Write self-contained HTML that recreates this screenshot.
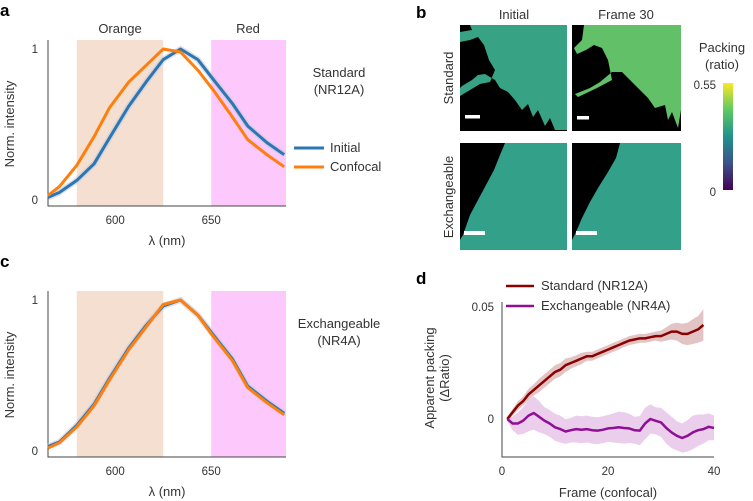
<!DOCTYPE html>
<html><head><meta charset="utf-8"><style>
html,body{margin:0;padding:0;background:#fff;}
svg{display:block;font-family:"Liberation Sans",sans-serif;}
</style></head><body>
<svg id="fig" width="753" height="501" viewBox="0 0 753 501" xmlns="http://www.w3.org/2000/svg">
<g id="pa"></g>
<g id="pc"></g>
<g id="pb">
  <text x="416" y="18" font-size="17" font-weight="bold">b</text>
  <text x="514" y="19" font-size="13" text-anchor="middle" fill="#333">Initial</text>
  <text x="626" y="19" font-size="13" text-anchor="middle" fill="#333">Frame 30</text>
  <text transform="translate(453,78) rotate(-90)" font-size="13" text-anchor="middle" fill="#333">Standard</text>
  <text transform="translate(453,197) rotate(-90)" font-size="13" text-anchor="middle" fill="#333">Exchangeable</text>
  <defs>
    <linearGradient id="cbar" x1="0" y1="1" x2="0" y2="0"><stop offset="0" stop-color="#440154"/><stop offset="0.25" stop-color="#3b528b"/><stop offset="0.5" stop-color="#21918c"/><stop offset="0.75" stop-color="#5ec962"/><stop offset="1" stop-color="#fde725"/></linearGradient>
  </defs>
  <g>
    <rect x="460" y="25" width="107" height="106" fill="#000"/>
    <polygon points="470,25 567,25 567,130 555,130 550,118 545,126 538,110 533,117 528,104 522,110 515,100 508,92 500,88 495,80 485,74 478,75 472,80 462,86 460,88 460,96 470,90 480,84 490,82 495,70 489,60 484,45 478,37 470,40 460,42 460,32 472,30" fill="#38a285"/>
    <rect x="465" y="115" width="15" height="3.5" fill="#fff"/>
  </g>
  <g>
    <rect x="572" y="25" width="109" height="106" fill="#000"/>
    <polygon points="584,25 681,25 681,110 678,128 672,112 668,120 665,105 655,108 648,98 640,90 630,80 622,72 612,72 600,82 590,88 575,94 578,97 597,88 612,80 608,60 602,48 594,45 586,50 577,54 574,48 582,40" fill="#62c068"/>
    <rect x="577" y="116" width="12" height="3.5" fill="#fff"/>
  </g>
  <g>
    <rect x="460" y="143" width="107" height="107" fill="#33a08a"/>
    <polygon points="460,143 505,143 500,155 494,170 486,185 478,200 470,215 463,235 460,240" fill="#000"/>
    <rect x="464" y="231" width="21" height="4" fill="#fff"/>
  </g>
  <g>
    <rect x="572" y="143" width="109" height="107" fill="#33a08a"/>
    <polygon points="572,143 620,143 616,158 608,172 598,188 590,202 582,218 576,232 572,240" fill="#000"/>
    <rect x="576" y="231" width="21" height="4" fill="#fff"/>
  </g>
  <text x="722" y="52" font-size="13" text-anchor="middle" fill="#333">Packing</text>
  <text x="722" y="69" font-size="13" text-anchor="middle" fill="#333">(ratio)</text>
  <rect x="723" y="83" width="10" height="107" fill="url(#cbar)"/>
  <text x="716" y="89" font-size="11.5" text-anchor="end" fill="#333">0.55</text>
  <text x="716" y="196" font-size="11.5" text-anchor="end" fill="#333">0</text>
</g>
<g id="pd"></g>
</svg>
<script>
// Spectra data
const wavelengths = [565,571,580,589,597,607,616,625,634,643,651,661,669,679,688];
const stdInitial = [0.017,0.05,0.13,0.24,0.41,0.62,0.78,0.93,1.0,0.93,0.80,0.64,0.49,0.38,0.30];
const stdConfocal = [0.03,0.09,0.23,0.42,0.61,0.78,0.89,1.0,0.98,0.86,0.73,0.55,0.40,0.30,0.22];
const exInitial = [0.03,0.06,0.17,0.31,0.48,0.68,0.83,0.96,1.0,0.9,0.77,0.61,0.43,0.33,0.25];
const exConfocal = [0.02,0.055,0.16,0.30,0.47,0.67,0.82,0.97,1.0,0.9,0.76,0.60,0.42,0.32,0.24];
const xTicks = [600,650];
// Panel d data
const frames = [1,2,3,4,5,6,7,8,9,10,11,12,13,14,15,16,17,18,19,20,21,22,23,24,25,26,27,28,29,30,31,32,33,34,35,36,37,38];
const stdMean = [0,0.003,0.006,0.008,0.011,0.013,0.015,0.017,0.019,0.021,0.022,0.024,0.025,0.026,0.027,0.028,0.028,0.029,0.030,0.031,0.032,0.033,0.034,0.035,0.0355,0.036,0.036,0.0365,0.037,0.037,0.038,0.039,0.039,0.038,0.038,0.039,0.040,0.042];
const stdErr = [0.001,0.0015,0.002,0.002,0.0025,0.0025,0.003,0.003,0.003,0.003,0.003,0.003,0.0025,0.0025,0.0025,0.002,0.002,0.002,0.002,0.002,0.002,0.002,0.002,0.002,0.002,0.002,0.002,0.002,0.002,0.0025,0.003,0.0035,0.004,0.0045,0.005,0.0055,0.006,0.007];
const exFrames = [1,2,3,4,5,6,7,8,9,10,11,12,13,14,15,16,17,18,19,20,21,22,23,24,25,26,27,28,29,30,31,32,33,34,35,36,37,38,39,40];
const exMean = [0,-0.002,-0.002,-0.0007,0.0015,0.0027,0.001,-0.0007,-0.002,-0.0037,-0.0045,-0.0056,-0.005,-0.0045,-0.0048,-0.0045,-0.005,-0.0052,-0.0048,-0.0042,-0.004,-0.0037,-0.004,-0.0042,-0.005,-0.0052,-0.002,0,-0.0008,-0.0015,-0.004,-0.006,-0.0075,-0.0085,-0.0075,-0.006,-0.005,-0.0045,-0.0035,-0.004];
const exErr = [0.001,0.003,0.005,0.006,0.007,0.0075,0.007,0.006,0.006,0.006,0.006,0.0055,0.0055,0.006,0.006,0.006,0.006,0.006,0.006,0.006,0.0065,0.007,0.007,0.0065,0.006,0.0065,0.007,0.0065,0.006,0.0065,0.007,0.007,0.0065,0.0065,0.007,0.0075,0.007,0.0065,0.006,0.0055];
const dXTicks = [0,20,40];
const dYTicks = [0,0.05];

const NS='http://www.w3.org/2000/svg';
function mk(parent,tag,attrs,text){const e=document.createElementNS(NS,tag);for(const k in attrs)e.setAttribute(k,attrs[k]);if(text!==undefined)e.textContent=text;parent.appendChild(e);return e;}
function pathFrom(xs,ys,fx,fy){return xs.map((x,i)=>(i?'L':'M')+fx(x).toFixed(1)+','+fy(ys[i]).toFixed(1)).join(' ');}

function spectrum(g,off,letter,blue,orange,name1,name2,showLegend){
  const fx=w=>48+(w-565)*1.92;
  const fy=v=>off+200-151*v;
  const top=off+40,bot=off+206;
  let t=mk(g,'text',{x:0,y:off+16,'font-size':17,'font-weight':'bold'},letter);
  
  
  let r=mk(g,'rect',{x:fx(580),y:top,width:fx(625)-fx(580),height:bot-top,fill:'#f5dfd0'});
  
  
  r=mk(g,'rect',{x:fx(650),y:top,width:286-fx(650),height:bot-top,fill:'#fdc8fb'});
  
  
  if(showLegend){
    t=mk(g,'text',{x:fx(602.5),y:off+33,'font-size':13,'text-anchor':'middle',fill:'#333'},'Orange');
    
    
    t=mk(g,'text',{x:248,y:off+33,'font-size':13,'text-anchor':'middle',fill:'#333'},'Red');
    
    
  }
  let a=mk(g,'path',{d:`M48,${top} V${bot} H286`,fill:'none',stroke:'#444','stroke-width':1});
  
  
  [[1,'1'],[0,'0']].forEach(([v,l])=>{const e=mk(g,'text',{x:38,y:fy(v)+4,'font-size':11.5,'text-anchor':'end',fill:'#333'},l);
    
    });
  xTicks.forEach(w=>{const e=mk(g,'text',{x:fx(w),y:off+224,'font-size':11.5,'text-anchor':'middle',fill:'#333'},String(w));
    
    });
  t=mk(g,'text',{x:167,y:off+245,'font-size':13,'text-anchor':'middle',fill:'#333'},'λ (nm)');
  
  
  t=mk(g,'text',{transform:`translate(14,${off+124}) rotate(-90)`,'font-size':13,'text-anchor':'middle',fill:'#333'},'Norm. intensity');
  
  
  let p=mk(g,'path',{d:pathFrom(wavelengths,blue,fx,fy),fill:'none',stroke:'#c9c9d8','stroke-width':6,opacity:0.6});
  
  
  p=mk(g,'path',{d:pathFrom(wavelengths,blue,fx,fy),fill:'none',stroke:'#2a77b4','stroke-width':3,'stroke-linejoin':'round'});
  
  
  p=mk(g,'path',{d:pathFrom(wavelengths,orange,fx,fy),fill:'none',stroke:'#ff7f0e','stroke-width':3,'stroke-linejoin':'round'});
  
  
  t=mk(g,'text',{x:339,y:off+77,'font-size':13,'text-anchor':'middle',fill:'#333'},name1);
  
  
  t=mk(g,'text',{x:339,y:off+94,'font-size':13,'text-anchor':'middle',fill:'#333'},name2);
  
  
  if(showLegend){
    mk(g,'line',{x1:294,x2:324,y1:off+148,y2:off+148,stroke:'#2a77b4','stroke-width':3});
    t=mk(g,'text',{x:330,y:off+152,'font-size':13,fill:'#333'},'Initial');
    
    
    mk(g,'line',{x1:294,x2:324,y1:off+167,y2:off+167,stroke:'#ff7f0e','stroke-width':3});
    t=mk(g,'text',{x:330,y:off+171,'font-size':13,fill:'#333'},'Confocal');
    
    
  }
}
spectrum(document.getElementById('pa'),0,'a',stdInitial,stdConfocal,'Standard','(NR12A)',true);
spectrum(document.getElementById('pc'),251,'c',exInitial,exConfocal,'Exchangeable','(NR4A)',false);

(function(){
  const g=document.getElementById('pd');
  const fx=f=>502+f*5.3;
  const fy=v=>419-v*2240;
  let t=mk(g,'text',{x:416,y:284,'font-size':17,'font-weight':'bold'},'d');
  
  
  function band(xs,m,e,col,name){
    const up=xs.map((x,i)=>fx(x).toFixed(1)+','+fy(m[i]+e[i]).toFixed(1));
    const lo=xs.map((x,i)=>fx(x).toFixed(1)+','+fy(m[i]-e[i]).toFixed(1)).reverse();
    const p=mk(g,'polygon',{points:up.concat(lo).join(' '),fill:col});
    
    
  }
  band(frames,stdMean,stdErr,'rgba(160,60,60,0.3)','standard-error-band');
  band(exFrames,exMean,exErr,'rgba(170,60,180,0.25)','exchangeable-error-band');
  let p=mk(g,'path',{d:pathFrom(frames,stdMean,fx,fy),fill:'none',stroke:'#8b0000','stroke-width':2.5,'stroke-linejoin':'round'});
  
  
  p=mk(g,'path',{d:pathFrom(exFrames,exMean,fx,fy),fill:'none',stroke:'#8f0f95','stroke-width':2.5,'stroke-linejoin':'round'});
  
  
  let a=mk(g,'path',{d:'M502,302 V457 H714',fill:'none',stroke:'#444','stroke-width':1});
  
  
  dYTicks.forEach(v=>{const e=mk(g,'text',{x:494,y:fy(v)+4,'font-size':11.5,'text-anchor':'end',fill:'#333'},String(v));
    
    });
  dXTicks.forEach(v=>{const e=mk(g,'text',{x:fx(v),y:475,'font-size':11.5,'text-anchor':'middle',fill:'#333'},String(v));
    
    });
  t=mk(g,'text',{x:608,y:497,'font-size':13,'text-anchor':'middle',fill:'#333'},'Frame (confocal)');
  
  
  t=mk(g,'text',{transform:'translate(434,378) rotate(-90)','font-size':13,'text-anchor':'middle',fill:'#333'},'Apparent packing');
  
  
  t=mk(g,'text',{transform:'translate(449,378) rotate(-90)','font-size':13,'text-anchor':'middle',fill:'#333'},'(ΔRatio)');
  
  
  mk(g,'line',{x1:506,x2:534,y1:286,y2:286,stroke:'#8b0000','stroke-width':2.5});
  t=mk(g,'text',{x:541,y:290,'font-size':13,fill:'#333'},'Standard (NR12A)');
  
  
  mk(g,'line',{x1:506,x2:534,y1:306,y2:306,stroke:'#8f0f95','stroke-width':2.5});
  t=mk(g,'text',{x:541,y:310,'font-size':13,fill:'#333'},'Exchangeable (NR4A)');
  
  
})();
</script>
</body></html>
